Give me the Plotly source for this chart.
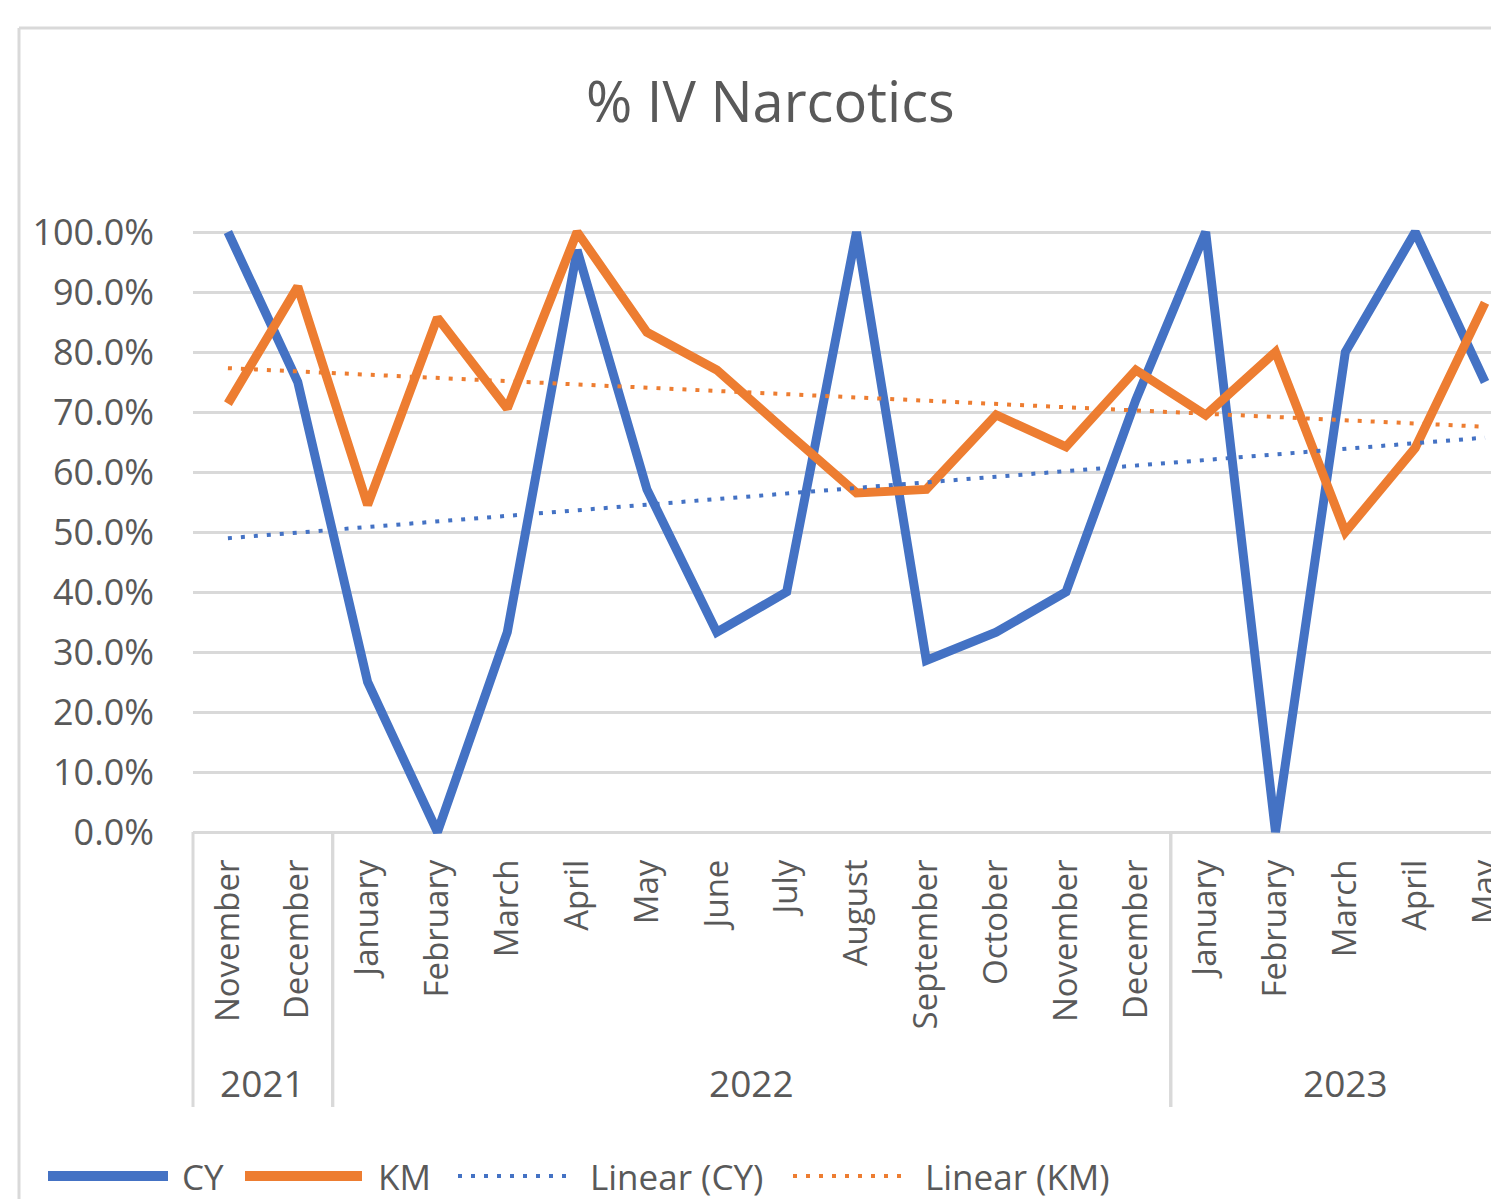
import numpy as np
import plotly.graph_objects as go

# data
months = ["November", "December", "January", "February", "March", "April", "May",
          "June", "July", "August", "September", "October", "November", "December",
          "January", "February", "March", "April", "May"]
years = ["2021", "2022", "2023"]
year_spans = [(0, 1), (2, 13), (14, 18)]  # first/last month index of each year

cy = [1.00, 0.75, 0.25, 0.00, 0.333, 0.97, 0.571, 0.333, 0.40, 1.00,
      0.286, 0.333, 0.40, 0.72, 1.00, 0.00, 0.80, 1.00, 0.75]
km = [0.714, 0.909, 0.545, 0.857, 0.706, 1.00, 0.833, 0.77, 0.667, 0.565,
      0.571, 0.695, 0.642, 0.77, 0.695, 0.80, 0.50, 0.64, 0.882]

BLUE = "#4472C4"
ORANGE = "#ED7D31"
TEXT = "#595959"
GRID = "#D9D9D9"
FONT = "Open Sans, sans-serif"

# page geometry: the figure sits 8px in from the page corner (body margin)
OFF = 8
W, H = 1491, 1191
L, R, T, B = 185, 0, 212, 361
PW, PH = W - L - R, H - T - B
X_RANGE = [-0.5, 18.2]


def px_x(p):
    # screen pixel -> paper x
    return (p - OFF - L) / PW


def px_y(p):
    # screen pixel (from top) -> paper y
    return (H - B - (p - OFF)) / PH


def cat_x(v):
    return (v - X_RANGE[0]) / (X_RANGE[1] - X_RANGE[0])


idx = np.arange(len(months))

fig = go.Figure()

fig.add_trace(go.Scatter(x=idx, y=cy, mode="lines", name="CY",
                         line=dict(color=BLUE, width=9)))
fig.add_trace(go.Scatter(x=idx, y=km, mode="lines", name="KM",
                         line=dict(color=ORANGE, width=9)))

# linear trendlines, fitted like Excel does
for vals, color, name in [(cy, BLUE, "Linear (CY)"), (km, ORANGE, "Linear (KM)")]:
    slope, icpt = np.polyfit(idx, vals, 1)
    ends = np.array([idx[0], idx[-1]])
    fig.add_trace(go.Scatter(x=ends, y=slope * ends + icpt, mode="lines", name=name,
                             line=dict(color=color, width=4, dash="4px,9px")))

shapes = []
# chart border (top and left edges visible)
shapes.append(dict(type="line", xref="paper", yref="paper",
                   x0=px_x(19), x1=px_x(1510), y0=px_y(28), y1=px_y(28),
                   line=dict(color=GRID, width=3)))
shapes.append(dict(type="line", xref="paper", yref="paper",
                   x0=px_x(19), x1=px_x(19), y0=px_y(28), y1=px_y(1210),
                   line=dict(color=GRID, width=3)))
# year group dividers
for first, last in year_spans:
    for edge in (first - 0.5, last + 0.5):
        shapes.append(dict(type="line", xref="paper", yref="paper",
                           x0=cat_x(edge), x1=cat_x(edge), y0=px_y(832), y1=px_y(1107),
                           line=dict(color=GRID, width=3)))

annotations = [dict(text="% IV Narcotics", xref="paper", yref="paper",
                    x=px_x(770), y=px_y(100), xanchor="center", yanchor="middle",
                    showarrow=False, font=dict(size=56, color=TEXT, family=FONT))]
for yr, (first, last) in zip(years, year_spans):
    annotations.append(dict(text=yr, xref="x", yref="paper", x=(first + last) / 2,
                            y=px_y(1082), xanchor="center", yanchor="middle",
                            showarrow=False, font=dict(size=37, color=TEXT, family=FONT)))

# hand-drawn legend with long line keys like Excel
legend_items = [("CY", BLUE, 10, "solid", 48, 168, 180),
                ("KM", ORANGE, 10, "solid", 245, 362, 376),
                ("Linear (CY)", BLUE, 4, "4px,9px", 458, 566, 588),
                ("Linear (KM)", ORANGE, 4, "4px,9px", 793, 906, 923)]
for label, color, w, dash, x0, x1, tx in legend_items:
    shapes.append(dict(type="line", xref="paper", yref="paper",
                       x0=px_x(x0), x1=px_x(x1), y0=px_y(1176), y1=px_y(1176),
                       line=dict(color=color, width=w, dash=dash)))
    annotations.append(dict(text=label, xref="paper", yref="paper", x=px_x(tx),
                            y=px_y(1176), xanchor="left", yanchor="middle",
                            showarrow=False, font=dict(size=35, color=TEXT, family=FONT)))

fig.update_layout(
    width=W,
    height=H,
    margin=dict(l=L, r=R, t=T, b=B, autoexpand=False),
    paper_bgcolor="white",
    plot_bgcolor="white",
    showlegend=False,
    font=dict(family=FONT, color=TEXT),
    shapes=shapes,
    annotations=annotations,
    xaxis=dict(
        range=X_RANGE,
        tickvals=idx,
        ticktext=months,
        tickangle=-90,
        tickfont=dict(size=33, color=TEXT),
        ticklabelstandoff=14,
        ticklabeloverflow="allow",
        showgrid=False,
        zeroline=False,
        showline=False,
    ),
    yaxis=dict(
        range=[-0.01, 1.02],
        tickvals=np.round(np.arange(0, 1.01, 0.1), 1),
        tickformat=".1%",
        tickfont=dict(size=36, color=TEXT),
        ticklabelstandoff=38,
        showgrid=True,
        gridcolor=GRID,
        gridwidth=3,
        zeroline=True,
        zerolinecolor=GRID,
        zerolinewidth=3,
        showline=False,
    ),
)

fig.write_html("out.html")
